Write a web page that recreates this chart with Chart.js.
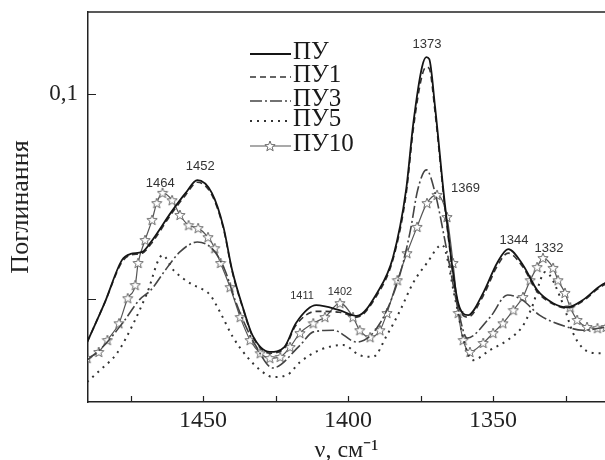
<!DOCTYPE html>
<html>
<head>
<meta charset="utf-8">
<script src="https://cdn.jsdelivr.net/npm/chart.js@4.4.1/dist/chart.umd.min.js"></script>
<style>html,body{margin:0;background:#fff}</style>
</head>
<body>
<canvas id="chart" width="605" height="460"></canvas>
<script>
const labels = ['ПУ', 'ПУ1', 'ПУ3', 'ПУ5', 'ПУ10'];

// wavenumbers (cm-1) and absorbance
const puX = [1490,1484,1478,1475,1471,1468,1461,1456,1452,1447,1443,1440,1436,1433,1427,1422,1418,1411,1403,1397,1390,1384.5,1380,1377.5,1374.5,1373,1372,1370,1366.5,1362,1358.6,1353.4,1348.6,1344.8,1339.7,1334.8,1329.3,1324.5,1319,1314,1311];
const puY = [0.0395,0.0490,0.0595,0.0610,0.0615,0.0639,0.0712,0.0759,0.0790,0.0759,0.0676,0.0571,0.0473,0.0412,0.0371,0.0383,0.0441,0.0485,0.0473,0.0459,0.0515,0.0602,0.0766,0.0929,0.1066,0.1090,0.1085,0.0968,0.0724,0.0490,0.0461,0.0515,0.0588,0.0622,0.0583,0.0522,0.0490,0.0480,0.0498,0.0527,0.0541];
const pu1Y = [0.0395,0.0490,0.0590,0.0607,0.0612,0.0634,0.0707,0.0754,0.0785,0.0754,0.0672,0.0568,0.0471,0.0410,0.0368,0.0380,0.0436,0.0470,0.0468,0.0456,0.0510,0.0597,0.0755,0.0915,0.1045,0.1066,0.1062,0.0955,0.0715,0.0485,0.0456,0.0508,0.0580,0.0612,0.0578,0.0518,0.0488,0.0478,0.0495,0.0524,0.0538];

const pu3X = [1490,1484,1477,1472,1468,1463,1458,1452,1446.5,1442.5,1439,1435.5,1432,1426,1416.5,1412,1405,1397,1389,1382,1378.5,1376,1373,1370,1366,1362,1359,1351,1345,1340,1334,1324.5,1319,1311];
const pu3Y = [0.0351,0.0388,0.0449,0.0498,0.0522,0.0571,0.0615,0.0639,0.0620,0.0571,0.0498,0.0437,0.0388,0.0332,0.0388,0.0420,0.0424,0.0395,0.0441,0.0563,0.0668,0.0766,0.0815,0.0759,0.0620,0.0473,0.0405,0.0456,0.0510,0.0498,0.0461,0.0432,0.0424,0.0432];

const pu5X = [1490,1485.5,1479.7,1474,1469.3,1464,1460.3,1457,1453.4,1451,1447.6,1444,1439.7,1434.8,1430.3,1426,1421,1416.6,1409.7,1401.7,1396,1391.4,1386.6,1382,1377.6,1372.8,1367.6,1363,1359.7,1357,1351,1345,1340,1336.6,1332,1326,1322.4,1319,1314,1311];
const pu5Y = [0.0298,0.0327,0.0368,0.0441,0.0515,0.0607,0.0571,0.0551,0.0534,0.0527,0.0510,0.0466,0.0407,0.0359,0.0327,0.0310,0.0315,0.0346,0.0376,0.0388,0.0363,0.0359,0.0412,0.0473,0.0539,0.0588,0.0632,0.0498,0.0388,0.0351,0.0376,0.0400,0.0432,0.0480,0.0566,0.0490,0.0417,0.0380,0.0368,0.0368];

const pu10X = [1490,1486,1483,1479,1476,1473.4,1472.4,1470,1467.6,1466,1464,1460.7,1458,1455,1451.7,1448.3,1446,1444,1440.7,1437.2,1433.8,1430.3,1427,1423.4,1420,1416.6,1412,1408,1402.8,1398.3,1396,1392.4,1389,1386.6,1383,1379.7,1376.2,1372.8,1369.3,1365.9,1363.8,1362,1360.3,1358,1353.4,1350,1346.6,1343,1339.7,1337.2,1334.8,1332.8,1329.3,1327.6,1325.2,1323.4,1321,1317.6,1314,1311];
const pu10Y = [0.0356,0.0371,0.0400,0.0441,0.0502,0.0534,0.0588,0.0644,0.0693,0.0734,0.0759,0.0741,0.0705,0.0680,0.0673,0.0651,0.0624,0.0588,0.0529,0.0456,0.0400,0.0368,0.0356,0.0359,0.0383,0.0417,0.0441,0.0456,0.0490,0.0456,0.0424,0.0407,0.0424,0.0466,0.0546,0.0612,0.0676,0.0734,0.0754,0.0700,0.0588,0.0466,0.0400,0.0371,0.0393,0.0417,0.0441,0.0473,0.0505,0.0546,0.0578,0.0600,0.0576,0.0546,0.0515,0.0480,0.0449,0.0432,0.0429,0.0432];

const xTicks = [1475, 1450, 1425, 1400, 1375, 1350, 1325];
const yTicks = [0.05, 0.1];

// peak marks: text, wavenumber and absorbance where the text sits
const peakText = ['1464', '1452', '1411', '1402', '1373', '1369', '1344', '1332'];
const peakNu = [1464.8, 1451, 1415.9, 1402.8, 1372.8, 1359.5, 1342.8, 1330.7];
const peakAt = [0.0783, 0.0824, 0.0507, 0.0517, 0.1122, 0.0771, 0.0644, 0.0624];

const pts = (xs, ys) => xs.map((x, i) => ({x: x, y: ys[i]}));

function makeStar() {
    const c = document.createElement('canvas');
    c.width = c.height = 12;
    const g = c.getContext('2d');
    g.beginPath();
    for (let i = 0; i < 10; i++) {
        const r = i % 2 ? 2.3 : 5.4;
        const a = -Math.PI / 2 + i * Math.PI / 5;
        g.lineTo(6 + r * Math.cos(a), 6.4 + r * Math.sin(a));
    }
    g.closePath();
    g.fillStyle = '#fff';
    g.fill();
    g.strokeStyle = '#6a6a6a';
    g.lineWidth = 1;
    g.stroke();
    return c;
}
const star = makeStar();

const serif = 'Liberation Serif';

const extras = {
    id: 'extras',
    afterDraw(chart) {
        const {ctx, chartArea: a, scales: {x, y}} = chart;
        ctx.save();
        // top frame line
        ctx.strokeStyle = '#222';
        ctx.lineWidth = 1.5;
        ctx.beginPath();
        ctx.moveTo(a.left, a.top);
        ctx.lineTo(a.right + 2, a.top);
        ctx.stroke();
        // inward ticks
        ctx.lineWidth = 1.2;
        ctx.beginPath();
        xTicks.forEach(v => {
            const px = Math.round(x.getPixelForValue(v)) + 0.5;
            ctx.moveTo(px, a.bottom);
            ctx.lineTo(px, a.bottom - 6);
        });
        yTicks.forEach(v => {
            const py = Math.round(y.getPixelForValue(v)) + 0.5;
            ctx.moveTo(a.left, py);
            ctx.lineTo(a.left + 8, py);
        });
        ctx.stroke();

        // peak labels
        ctx.fillStyle = '#333';
        ctx.textAlign = 'center';
        ctx.textBaseline = 'middle';
        peakText.forEach((t, i) => {
            const small = t === '1411' || t === '1402';
            ctx.font = (small ? '11px' : '13px') + ' "Liberation Sans", Arial, sans-serif';
            ctx.fillText(t, x.getPixelForValue(peakNu[i]), y.getPixelForValue(peakAt[i]));
        });

        // legend
        const rows = [52, 75, 99, 119, 144];
        ctx.font = '25px "' + serif + '"';
        ctx.textAlign = 'left';
        ctx.textBaseline = 'middle';
        chart.data.datasets.forEach((ds, i) => {
            const ly = rows[i] + 2;
            ctx.strokeStyle = ds.borderColor;
            ctx.lineWidth = ds.borderWidth;
            ctx.setLineDash(ds.borderDash || []);
            ctx.beginPath();
            ctx.moveTo(250, ly);
            ctx.lineTo(291, ly);
            ctx.stroke();
            ctx.setLineDash([]);
            if (ds.pointStyle === star) ctx.drawImage(star, 264, ly - 6);
            ctx.fillStyle = '#1a1a1a';
            ctx.fillText(ds.label, 293, rows[i]);
        });
        ctx.restore();
    }
};

const base = {
    fill: false,
    cubicInterpolationMode: 'monotone',
    pointRadius: 0,
    borderWidth: 1.6
};

new Chart(document.getElementById('chart').getContext('2d'), {
    type: 'line',
    data: {
        datasets: [
            {...base, label: labels[0], data: pts(puX, puY), borderColor: '#151515', borderWidth: 1.8},
            {...base, label: labels[1], data: pts(puX, pu1Y), borderColor: '#333', borderDash: [6, 4]},
            {...base, label: labels[2], data: pts(pu3X, pu3Y), borderColor: '#444', borderDash: [12, 3, 2, 3]},
            {...base, label: labels[3], data: pts(pu5X, pu5Y), borderColor: '#333', borderDash: [2, 5], borderWidth: 2},
            {...base, label: labels[4], data: pts(pu10X, pu10Y), borderColor: '#555', borderWidth: 1.2,
                pointStyle: star, pointRadius: 6}
        ]
    },
    options: {
        responsive: false,
        animation: false,
        layout: {autoPadding: false, padding: {top: 12, right: 0, left: 0, bottom: 0}},
        plugins: {legend: {display: false}, tooltip: {enabled: false}},
        scales: {
            x: {
                type: 'linear',
                reverse: true,
                min: 1311.4,
                max: 1489.7,
                afterBuildTicks: axis => { axis.ticks = xTicks.map(v => ({value: v})); },
                afterFit: axis => { axis.height = 58; axis.paddingLeft = 0; axis.paddingRight = 0; },
                grid: {display: false, drawTicks: false},
                border: {display: true, color: '#222', width: 1.5},
                ticks: {
                    padding: 4,
                    color: '#222',
                    font: {family: serif, size: 24},
                    maxRotation: 0,
                    callback: v => v % 50 === 0 ? String(v) : ''
                },
                title: {display: true, text: 'ν, см⁻¹', color: '#222', font: {family: serif, size: 24}, padding: {top: -5, bottom: -5}}
            },
            y: {
                min: 0.0249,
                max: 0.12,
                afterBuildTicks: axis => { axis.ticks = yTicks.map(v => ({value: v})); },
                afterFit: axis => { axis.width = 88; axis.paddingTop = 0; axis.paddingBottom = 0; },
                grid: {display: false, drawTicks: false},
                border: {display: true, color: '#222', width: 1.5},
                ticks: {
                    padding: 10,
                    color: '#222',
                    font: {family: serif, size: 23},
                    callback: v => v === 0.1 ? '0,1' : ''
                },
                title: {display: true, text: 'Поглинання', color: '#222', font: {family: serif, size: 26}, padding: {top: 6, bottom: 6}}
            }
        }
    },
    plugins: [extras]
});
</script>
</body>
</html>
